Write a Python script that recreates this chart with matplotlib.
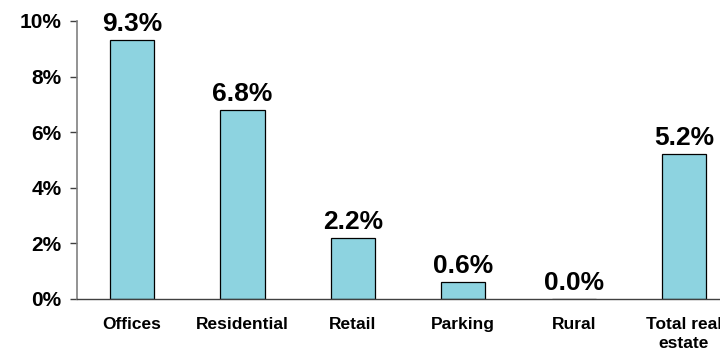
import matplotlib.pyplot as plt
from matplotlib.ticker import FuncFormatter

categories = ["Offices", "Residential", "Retail", "Parking", "Rural", "Total real\nestate"]
values = [9.3, 6.8, 2.2, 0.6, 0.0, 5.2]
yticks = [0, 2, 4, 6, 8, 10]

plt.rcParams['font.family'] = ['Liberation Sans', 'DejaVu Sans']
plt.rcParams['font.weight'] = 'bold'

fig = plt.figure(figsize=(7.2, 3.52), dpi=100)
ax = fig.add_axes([77 / 720, 53 / 352, (720 - 77) / 720, 278 / 352])

x = range(len(categories))
bars = ax.bar(x, values, width=0.4, color='#8DD3E0', edgecolor='black', linewidth=0.9)

for xi, v in zip(x, values):
    ax.annotate(f"{v:.1f}%", (xi, v), xytext=(0, 3), textcoords='offset points',
                ha='center', va='bottom', fontsize=19, fontweight='bold')

ax.set_xlim(-0.5, 5.326)
ax.set_ylim(0, 10)
ax.set_yticks(yticks)
ax.yaxis.set_major_formatter(FuncFormatter(lambda v, p: f"{v:.0f}%"))
ax.set_xticks(list(x))
ax.set_xticklabels(categories, fontsize=12.5, fontweight='bold', linespacing=1.3)
ax.tick_params(axis='x', length=0, pad=13)
ax.tick_params(axis='y', length=5, width=1, color='#404040', labelsize=15, pad=6, direction='out')

for s in ['top', 'right']:
    ax.spines[s].set_visible(False)
ax.spines['left'].set_color('#808080')
ax.spines['left'].set_linewidth(1.2)
ax.spines['bottom'].set_color('#404040')
ax.spines['bottom'].set_linewidth(1.0)

fig.savefig('out.png', dpi=100)
